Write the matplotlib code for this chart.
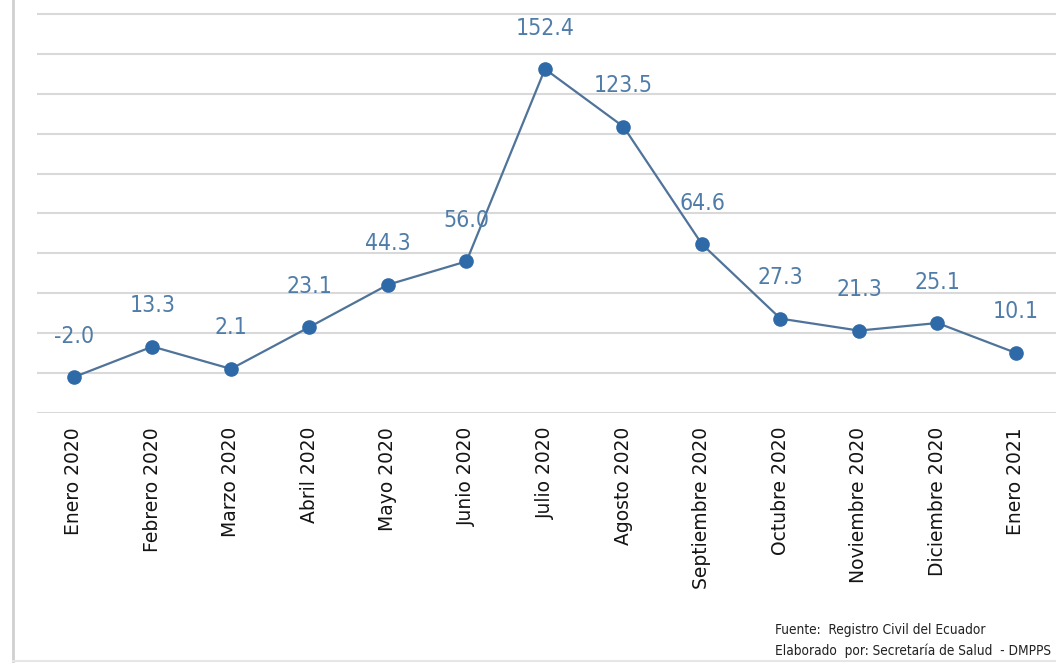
import matplotlib
matplotlib.use("Agg")
import matplotlib.pyplot as plt
from matplotlib.lines import Line2D

months = ["Enero 2020", "Febrero 2020", "Marzo 2020", "Abril 2020", "Mayo 2020",
          "Junio 2020", "Julio 2020", "Agosto 2020", "Septiembre 2020",
          "Octubre 2020", "Noviembre 2020", "Diciembre 2020", "Enero 2021"]
values = [-2.0, 13.3, 2.1, 23.1, 44.3, 56.0, 152.4, 123.5, 64.6, 27.3, 21.3, 25.1, 10.1]
grid_values = list(range(-20, 181, 20))
footer_lines = ["Fuente:  Registro Civil del Ecuador",
                "Elaborado  por: Secretaría de Salud  - DMPPS"]

narrow = ["DejaVu Sans"]

fig = plt.figure(figsize=(10.56, 6.63), dpi=100)
ax = fig.add_axes([37/1056, 1 - 413/663, 1 - 37/1056, 413/663])

x = list(range(len(values)))
ax.plot(x, values, color="#4f7399", lw=1.6, zorder=3)
ax.plot(x, values, "o", color="#2f6aa8", ms=9.5, zorder=4)

for xi, v in zip(x, values):
    ax.annotate(f"{v:.1f}", (xi, v), xytext=(0, 29.5), textcoords="offset points",
                ha="center", va="center", fontsize=16.5, color="#4f7ca8",
                family=narrow, stretch="condensed", zorder=5)

ax.set_xlim(-0.471, 12.51)
ax.set_ylim(-20, 187)
ax.set_yticks(grid_values)
ax.set_yticklabels([])
ax.tick_params(axis="y", length=0)
ax.yaxis.grid(True, color="#d9d9d9", lw=1.5)
ax.set_axisbelow(True)
for s in ax.spines.values():
    s.set_visible(False)

ax.set_xticks(x)
ax.set_xticklabels(months, rotation=90, fontsize=13.5, color="#141414",
                   family="DejaVu Sans", va="top", ha="center")
ax.tick_params(axis="x", length=0, pad=10)

# chart area border (left and bottom)
fig.add_artist(Line2D([12.5/1056, 12.5/1056], [1.0, 1 - 661/663],
                      transform=fig.transFigure, color="#d0d0d0", lw=2))
fig.add_artist(Line2D([12.5/1056, 1.0], [1 - 661/663, 1 - 661/663],
                      transform=fig.transFigure, color="#e6e6e6", lw=1.5))

fig.text(775/1056, 1 - 630/663, footer_lines[0], fontsize=9.8, family=narrow,
         stretch="condensed", color="#222222", ha="left", va="center")
fig.text(775/1056, 1 - 651/663, footer_lines[1], fontsize=9.8, family=narrow,
         stretch="condensed", color="#222222", ha="left", va="center")

fig.savefig("out.png", dpi=100)
